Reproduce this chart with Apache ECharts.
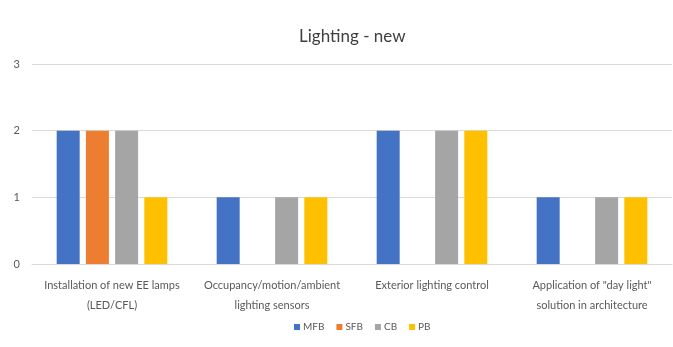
<!DOCTYPE html>
<html>
<head>
<meta charset="utf-8">
<script src="https://cdn.jsdelivr.net/npm/echarts@6/dist/echarts.min.js"></script>
<style>
  html, body { margin: 0; padding: 0; background: #fff; }
  #chart { width: 673px; height: 347px; }
</style>
</head>
<body>
<div id="chart"></div>
<script>
// Measures and the four building types
const categories = [
  'Installation of new EE lamps\n(LED/CFL)',
  'Occupancy/motion/ambient\nlighting sensors',
  'Exterior lighting control',
  'Application of "day light"\nsolution in architecture'
];
const mfb = [2, 1, 2, 1];
const sfb = [2, 0, 0, 0];
const cb  = [2, 1, 2, 1];
const pb  = [1, 1, 2, 1];
const yTicks = [0, 1, 2, 3];

const font = 'Lato, "Open Sans", sans-serif';
const chart = echarts.init(document.getElementById('chart'));

function bar(name, data, color) {
  return {
    name, type: 'bar', data,
    barWidth: 23, barGap: '27%',
    itemStyle: { color },
    emphasis: { disabled: true }
  };
}

chart.setOption({
  animation: false,
  title: {
    text: 'Lighting - new',
    left: 294, top: 23,
    textStyle: { fontFamily: font, fontSize: 17, fontWeight: 'normal', color: '#404040' }
  },
  grid: { left: 32, right: 1, top: 64, bottom: 83 },
  legend: {
    top: 317, left: 289,
    itemWidth: 6, itemHeight: 6, itemGap: 12,
    icon: 'rect',
    textStyle: { fontFamily: font, fontSize: 10, color: '#595959', padding: [0, 0, 0, -2] },
    data: ['MFB', 'SFB', 'CB', 'PB']
  },
  xAxis: {
    type: 'category',
    data: categories,
    axisTick: { show: false },
    axisLine: { lineStyle: { color: '#d9d9d9' } },
    axisLabel: { fontFamily: font, fontSize: 11, color: '#595959', lineHeight: 20, margin: 11, interval: 0 }
  },
  yAxis: {
    type: 'value', min: yTicks[0], max: yTicks[yTicks.length - 1], interval: 1,
    axisLabel: { fontFamily: font, fontSize: 11, color: '#595959', margin: 12 },
    splitLine: { lineStyle: { color: '#d9d9d9' } },
    axisLine: { show: false }, axisTick: { show: false }
  },
  series: [
    bar('MFB', mfb, '#4472C4'),
    bar('SFB', sfb, '#ED7D31'),
    bar('CB', cb, '#A5A5A5'),
    bar('PB', pb, '#FFC000')
  ]
});
</script>
</body>
</html>
